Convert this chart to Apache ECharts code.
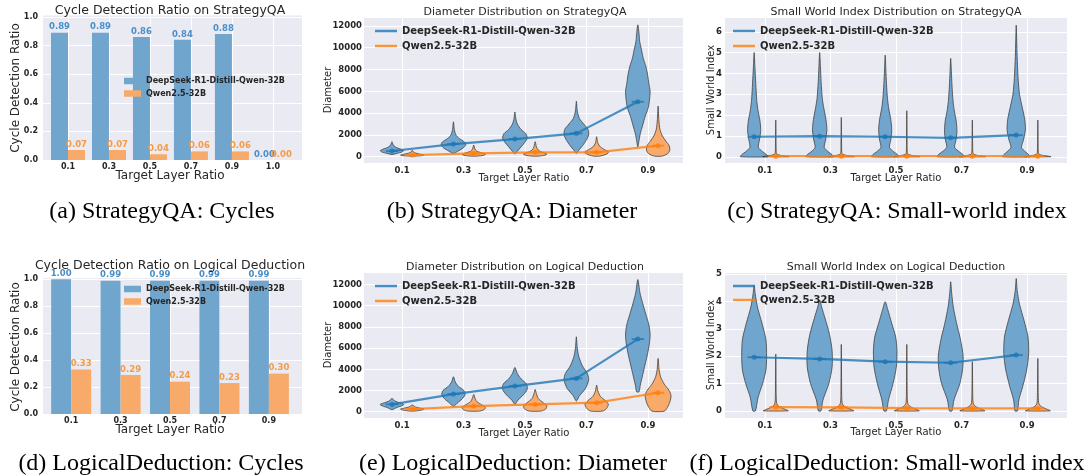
<!DOCTYPE html>
<html><head><meta charset="utf-8">
<script src="https://cdn.jsdelivr.net/npm/echarts@6/dist/echarts.min.js"></script>
<style>html,body{margin:0;padding:0;background:#fff}#c{width:1086px;height:475px}</style>
</head><body><div id="c"></div><script>
// ---------------- data ----------------
const DS = 'DeepSeek-R1-Distill-Qwen-32B', QW = 'Qwen2.5-32B';
const layerCats6 = ['0.1','0.3','0.5','0.7','0.9','1.0'];
const layerCats5 = ['0.1','0.3','0.5','0.7','0.9'];
const cycleTicks = [0, 0.2, 0.4, 0.6, 0.8, 1.0];
const diamTicks = [0, 2000, 4000, 6000, 8000, 10000, 12000];
const swTicksSQA = [0, 1, 2, 3, 4, 5, 6];
const swTicksLD = [0, 1, 2, 3, 4, 5];

const cycleSQA_DS = [0.89, 0.89, 0.86, 0.84, 0.88, 0.00];
const cycleSQA_QW = [0.07, 0.07, 0.04, 0.06, 0.06, 0.00];
const cycleLD_DS = [1.00, 0.99, 0.99, 0.99, 0.99];
const cycleLD_QW = [0.33, 0.29, 0.24, 0.23, 0.30];

const diamSQA_DS_mean = [520, 1160, 1620, 2140, 5045];
const diamSQA_QW_mean = [150, 306, 400, 400, 1010];
const diamLD_DS_mean = [690, 1665, 2420, 3140, 6850];
const diamLD_QW_mean = [250, 535, 690, 850, 1790];
const swSQA_DS_mean = [0.96, 0.99, 0.96, 0.91, 1.04];
const swSQA_QW_mean = [0.03, 0.03, 0.03, 0.03, 0.03];
const swLD_DS_mean = [1.96, 1.90, 1.80, 1.76, 2.04];
const swLD_QW_mean = [0.14, 0.13, 0.10, 0.09, 0.09];

// violin profiles: [value, half-width (category units)]
const diamSQA_DS_violin = [
  [[200,0],[300,0.08],[420,0.16],[550,0.19],[680,0.15],[820,0.08],[1000,0.03],[1200,0.012],[1370,0]],
  [[300,0],[500,0.07],[800,0.16],[1100,0.2],[1350,0.18],[1650,0.1],[2000,0.04],[2500,0.015],[3200,0]],
  [[250,0],[500,0.04],[900,0.1],[1300,0.16],[1700,0.2],[2100,0.18],[2500,0.1],[3000,0.04],[3500,0.015],[4100,0]],
  [[300,0],[600,0.04],[1000,0.1],[1500,0.16],[2000,0.2],[2500,0.19],[3000,0.12],[3500,0.05],[4200,0.015],[5100,0]],
  [[900,0],[1500,0.02],[2100,0.04],[2900,0.08],[3700,0.12],[4500,0.17],[5200,0.19],[6000,0.2],[6700,0.18],[7500,0.16],[8300,0.13],[9000,0.09],[9800,0.06],[10600,0.03],[11300,0.02],[12100,0]]
];
const diamSQA_QW_violin = [
  [[50,0.04],[100,0.17],[150,0.19],[220,0.14],[320,0.06],[450,0.015],[600,0]],
  [[50,0.05],[120,0.16],[220,0.19],[350,0.13],[500,0.05],[700,0.02],[1070,0]],
  [[50,0.05],[130,0.16],[250,0.19],[400,0.12],[600,0.05],[900,0.02],[1380,0]],
  [[50,0.05],[150,0.12],[300,0.18],[450,0.19],[650,0.13],[900,0.06],[1250,0.02],[1830,0]],
  [[50,0.06],[250,0.15],[600,0.19],[1000,0.18],[1400,0.13],[1900,0.07],[2500,0.03],[3400,0.012],[4650,0]]
];
const swSQA_DS_violin = [
  [[0,0.21],[0.1,0.19],[0.24,0.13],[0.45,0.065],[0.8,0.08],[1.25,0.1],[1.7,0.09],[2.2,0.06],[2.7,0.04],[3.5,0.025],[4.3,0.012],[5.0,0]],
  [[0,0.21],[0.1,0.19],[0.24,0.13],[0.45,0.07],[0.8,0.09],[1.3,0.11],[1.8,0.095],[2.3,0.065],[2.8,0.04],[3.6,0.022],[4.3,0.012],[5.0,0]],
  [[0,0.21],[0.1,0.19],[0.24,0.13],[0.45,0.065],[0.8,0.085],[1.3,0.1],[1.8,0.085],[2.3,0.055],[2.8,0.035],[3.5,0.02],[4.2,0.01],[4.88,0]],
  [[0,0.21],[0.1,0.19],[0.24,0.13],[0.45,0.06],[0.8,0.08],[1.2,0.095],[1.7,0.085],[2.2,0.055],[2.7,0.035],[3.4,0.02],[4.1,0.01],[4.72,0]],
  [[0,0.21],[0.1,0.19],[0.24,0.14],[0.45,0.08],[0.8,0.11],[1.3,0.14],[1.8,0.13],[2.4,0.09],[3.0,0.05],[3.8,0.028],[4.8,0.014],[5.6,0.007],[6.32,0]]
];
const swSQA_QW_violin = [
  [[0,0.2],[0.03,0.16],[0.07,0.07],[0.12,0.02],[0.2,0.008],[0.5,0.005],[1.76,0]],
  [[0,0.2],[0.03,0.16],[0.07,0.07],[0.12,0.02],[0.2,0.008],[0.5,0.005],[1.89,0]],
  [[0,0.2],[0.03,0.16],[0.07,0.07],[0.12,0.02],[0.2,0.008],[0.5,0.005],[2.21,0]],
  [[0,0.2],[0.03,0.16],[0.07,0.07],[0.12,0.02],[0.2,0.008],[0.5,0.005],[1.76,0]],
  [[0,0.2],[0.03,0.16],[0.07,0.07],[0.12,0.02],[0.2,0.008],[0.5,0.005],[1.76,0]]
];
const diamLD_DS_violin = [
  [[200,0],[400,0.08],[600,0.18],[700,0.19],[850,0.12],[1000,0.05],[1250,0]],
  [[500,0],[800,0.06],[1200,0.14],[1600,0.19],[2000,0.17],[2400,0.08],[2800,0.03],[3300,0]],
  [[700,0],[1100,0.05],[1600,0.14],[2100,0.2],[2600,0.19],[3100,0.1],[3600,0.04],[4180,0]],
  [[1000,0],[1500,0.05],[2200,0.15],[3000,0.2],[3600,0.18],[4300,0.1],[5200,0.04],[6000,0.015],[7070,0]],
  [[1880,0.02],[2500,0.04],[3500,0.08],[4500,0.12],[5500,0.16],[6500,0.19],[7300,0.2],[8200,0.18],[9200,0.13],[10200,0.08],[11200,0.035],[12470,0]]
];
const diamLD_QW_violin = [
  [[60,0.05],[150,0.15],[250,0.19],[350,0.12],[450,0.05],[630,0]],
  [[60,0.1],[200,0.17],[400,0.19],[650,0.13],[950,0.05],[1300,0.02],[1630,0]],
  [[60,0.1],[250,0.17],[550,0.19],[850,0.13],[1250,0.05],[1700,0.02],[2100,0]],
  [[60,0.1],[300,0.16],[700,0.19],[1050,0.14],[1450,0.06],[1950,0.02],[2500,0]],
  [[50,0.1],[400,0.15],[900,0.19],[1500,0.21],[2000,0.18],[2600,0.1],[3300,0.04],[4000,0.015],[5030,0]]
];
const swLD_DS_violin = [
  [[0,0.02],[0.5,0.06],[1.0,0.13],[1.5,0.18],[2.0,0.19],[2.6,0.18],[3.2,0.12],[3.8,0.05],[4.3,0.015],[4.6,0]],
  [[0,0.02],[0.4,0.05],[1.0,0.14],[1.6,0.19],[2.2,0.19],[2.8,0.15],[3.4,0.08],[3.8,0.03],[4.05,0]],
  [[0,0.02],[0.4,0.05],[1.0,0.12],[1.6,0.17],[2.2,0.18],[2.7,0.16],[3.2,0.1],[3.7,0.04],[3.99,0]],
  [[0,0.02],[0.4,0.05],[1.0,0.14],[1.5,0.18],[2.0,0.19],[2.6,0.15],[3.2,0.09],[3.8,0.04],[4.3,0.015],[4.72,0]],
  [[0,0.02],[0.4,0.04],[0.9,0.1],[1.5,0.16],[2.1,0.19],[2.7,0.18],[3.3,0.12],[3.9,0.05],[4.4,0.015],[4.84,0]]
];
const swLD_QW_violin = [
  [[0,0.19],[0.05,0.15],[0.12,0.08],[0.2,0.03],[0.3,0.012],[0.6,0.006],[2.08,0]],
  [[0,0.19],[0.05,0.15],[0.12,0.08],[0.2,0.03],[0.3,0.012],[0.6,0.006],[2.43,0]],
  [[0,0.19],[0.05,0.15],[0.12,0.08],[0.2,0.03],[0.3,0.012],[0.6,0.006],[2.43,0]],
  [[0,0.19],[0.05,0.15],[0.12,0.08],[0.2,0.03],[0.3,0.012],[0.6,0.006],[1.80,0]],
  [[0,0.19],[0.05,0.15],[0.12,0.08],[0.2,0.03],[0.3,0.012],[0.6,0.006],[1.92,0]]
];

// ---------------- styling ----------------
const FONT = 'DejaVu Sans';
const BG = '#EAEAF2', TXT = '#262626';
const BLUE_FILL = '#70a5cd', ORANGE_FILL = '#f7aa69';
const BLUE_LINE = 'rgba(31,119,180,0.8)', ORANGE_LINE = 'rgba(255,127,14,0.8)';
const BLUE_LBL = '#4a8fc8', ORANGE_LBL = '#f79a45';
const DODGE = 0.165;

const grids = [], xAxes = [], yAxes = [], series = [], legends = [], texts = [];

function addPanel(p) {
  const i = grids.length;
  grids.push({left: p.rect[0], top: p.rect[1], width: p.rect[2], height: p.rect[3],
    show: true, backgroundColor: BG, borderWidth: 0});
  const idx = p.cats.map((_, k) => k);
  xAxes.push({gridIndex: i, type: 'value', min: p.xr[0], max: p.xr[1],
    axisLine: {show: false}, axisTick: {show: false, customValues: idx},
    axisLabel: {customValues: idx, formatter: v => p.cats[Math.round(v)], fontFamily: FONT,
      fontWeight: 'bold', fontSize: p.ts, color: TXT, margin: p.xm},
    splitLine: {show: true, lineStyle: {color: '#ffffff', width: 1}}});
  yAxes.push({gridIndex: i, type: 'value', min: p.yr[0], max: p.yr[1],
    axisLine: {show: false}, axisTick: {show: false, customValues: p.yt},
    axisLabel: {customValues: p.yt, formatter: p.yf, fontFamily: FONT,
      fontWeight: 'bold', fontSize: p.ts, color: TXT, margin: p.ym},
    splitLine: {show: true, lineStyle: {color: '#ffffff', width: 1}}});
  return i;
}

function barSeries(i, name, vals, bw, color, lblColor) {
  series.push({type: 'bar', name, xAxisIndex: i, yAxisIndex: i,
    data: vals.map((v, k) => [k, v]), barWidth: bw, barGap: '0%',
    itemStyle: {color}, z: 2,
    label: {show: true, position: 'top', distance: 1, formatter: q => q.value[1].toFixed(2),
      fontFamily: FONT, fontWeight: 'bold', fontSize: 8.5, color: lblColor}});
}

function violinSeries(i, name, profiles, off, fill) {
  series.push({type: 'custom', name: name + ' violin', xAxisIndex: i, yAxisIndex: i, z: 2,
    silent: true, clip: false,
    data: profiles.map((pr, k) => [k + off, pr[pr.length - 1][0]]),
    encode: {x: 0, y: 1},
    renderItem(params, api) {
      const pr = profiles[params.dataIndex];
      const c = api.value(0);
      const right = pr.map(([y, w]) => api.coord([c + w, y]));
      // skip points of zero width on the way back so no vertex is doubled
      const back = pr.slice().reverse().filter(([y, w], k, a) => !(w === 0 && (k === 0 || k === a.length - 1)));
      const left = back.map(([y, w]) => api.coord([c - w, y]));
      return {type: 'polygon', shape: {points: right.concat(left), smooth: 0.25},
        style: {fill, stroke: 'rgba(60,60,60,0.85)', lineWidth: 0.9}};
    }});
}

function meanSeries(i, name, means, off, color) {
  series.push({type: 'line', name, xAxisIndex: i, yAxisIndex: i, z: 5,
    data: means.map((v, k) => [k + off, v]),
    symbol: 'circle', symbolSize: 5, showSymbol: true,
    lineStyle: {width: 2.2, color}, itemStyle: {color}});
  series.push({type: 'custom', name: name + ' cap', xAxisIndex: i, yAxisIndex: i, z: 5, silent: true,
    data: means.map((v, k) => [k + off, v]), encode: {x: 0, y: 1},
    renderItem(params, api) {
      const a = api.coord([api.value(0) - 0.1, api.value(1)]);
      const b = api.coord([api.value(0) + 0.1, api.value(1)]);
      return {type: 'line', shape: {x1: a[0], y1: a[1], x2: b[0], y2: b[1]},
        style: {stroke: color, lineWidth: 1.8}};
    }});
}

function legend(left, top, size, iw, ih, gap, rectIcon) {
  legends.push({left, top, orient: 'vertical', padding: 0, itemGap: gap, z: 10,
    itemWidth: iw, itemHeight: ih, icon: 'rect',
    textStyle: {fontFamily: FONT, fontWeight: 'bold', fontSize: size, color: TXT},
    data: [{name: DS, itemStyle: {color: rectIcon ? BLUE_FILL : BLUE_LINE}},
           {name: QW, itemStyle: {color: rectIcon ? ORANGE_FILL : ORANGE_LINE}}]});
}

function txt(x, y, text, size, o = {}) {
  texts.push({type: 'text', x, y, rotation: o.rot || 0, silent: true, z: 10,
    style: {text, font: (o.w || 'normal') + ' ' + size + 'px "' + (o.f || FONT) + '"',
      fill: o.c || TXT, textAlign: 'center', textVerticalAlign: 'middle',
      align: 'center', verticalAlign: 'middle'}});
}

const f1 = v => v.toFixed(1), fi = v => String(v);

// (a)
let g = addPanel({rect: [43, 15.5, 259, 144.5], xr: [-0.61, 5.71], yr: [0, 1.01], cats: layerCats6,
  yt: cycleTicks, yf: f1, ts: 8, xm: 3, ym: 5});
barSeries(g, DS, cycleSQA_DS, 17, BLUE_FILL, BLUE_LBL);
barSeries(g, QW, cycleSQA_QW, 17, ORANGE_FILL, ORANGE_LBL);
legend(124, 77, 8, 17, 6.5, 4.5, true);
txt(170, 11, 'Cycle Detection Ratio on StrategyQA', 12.5);
txt(170, 176, 'Target Layer Ratio', 12);
txt(16, 88, 'Cycle Detection Ratio', 12, {rot: Math.PI / 2});

// (b)
g = addPanel({rect: [364, 18, 319, 145], xr: [-0.62, 4.57], yr: [-580, 12730], cats: layerCats5,
  yt: diamTicks, yf: fi, ts: 8.5, xm: 3, ym: 2});
violinSeries(g, DS, diamSQA_DS_violin, -DODGE, BLUE_FILL);
violinSeries(g, QW, diamSQA_QW_violin, DODGE, ORANGE_FILL);
meanSeries(g, DS, diamSQA_DS_mean, -DODGE, BLUE_LINE);
meanSeries(g, QW, diamSQA_QW_mean, DODGE, ORANGE_LINE);
legend(375, 26, 10, 22, 2.5, 5, false);
txt(525, 12, 'Diameter Distribution on StrategyQA', 11);
txt(524, 178, 'Target Layer Ratio', 10);
txt(328, 90, 'Diameter', 10, {rot: Math.PI / 2});

// (c)
g = addPanel({rect: [725, 18, 342, 145], xr: [-0.61, 4.61], yr: [-0.3, 6.66], cats: layerCats5,
  yt: swTicksSQA, yf: fi, ts: 8.5, xm: 3, ym: 3});
violinSeries(g, DS, swSQA_DS_violin, -DODGE, BLUE_FILL);
violinSeries(g, QW, swSQA_QW_violin, DODGE, ORANGE_FILL);
meanSeries(g, DS, swSQA_DS_mean, -DODGE, BLUE_LINE);
meanSeries(g, QW, swSQA_QW_mean, DODGE, ORANGE_LINE);
legend(733, 26, 10, 22, 2.5, 5, false);
txt(896, 12, 'Small World Index Distribution on StrategyQA', 11);
txt(896, 178, 'Target Layer Ratio', 10);
txt(711, 90, 'Small World Index', 10, {rot: Math.PI / 2});

// (d)
g = addPanel({rect: [43, 278, 259, 136], xr: [-0.57, 4.67], yr: [0, 1.01], cats: layerCats5,
  yt: cycleTicks, yf: f1, ts: 8, xm: 3, ym: 5});
barSeries(g, DS, cycleLD_DS, 20, BLUE_FILL, BLUE_LBL);
barSeries(g, QW, cycleLD_QW, 20, ORANGE_FILL, ORANGE_LBL);
legend(124, 285, 8, 17, 6.5, 4.5, true);
txt(170, 266, 'Cycle Detection Ratio on Logical Deduction', 12.5);
txt(170, 430, 'Target Layer Ratio', 12);
txt(16, 347, 'Cycle Detection Ratio', 12, {rot: Math.PI / 2});

// (e)
g = addPanel({rect: [364, 273, 319, 145], xr: [-0.62, 4.57], yr: [-594, 13085], cats: layerCats5,
  yt: diamTicks, yf: fi, ts: 8.5, xm: 3, ym: 2});
violinSeries(g, DS, diamLD_DS_violin, -DODGE, BLUE_FILL);
violinSeries(g, QW, diamLD_QW_violin, DODGE, ORANGE_FILL);
meanSeries(g, DS, diamLD_DS_mean, -DODGE, BLUE_LINE);
meanSeries(g, QW, diamLD_QW_mean, DODGE, ORANGE_LINE);
legend(375, 281, 10, 22, 2.5, 5, false);
txt(525, 267, 'Diameter Distribution on Logical Deduction', 11);
txt(524, 433, 'Target Layer Ratio', 10);
txt(328, 345, 'Diameter', 10, {rot: Math.PI / 2});

// (f)
g = addPanel({rect: [725, 273, 342, 145], xr: [-0.61, 4.61], yr: [-0.26, 5.04], cats: layerCats5,
  yt: swTicksLD, yf: fi, ts: 8.5, xm: 3, ym: 3});
violinSeries(g, DS, swLD_DS_violin, -DODGE, BLUE_FILL);
violinSeries(g, QW, swLD_QW_violin, DODGE, ORANGE_FILL);
meanSeries(g, DS, swLD_DS_mean, -DODGE, BLUE_LINE);
meanSeries(g, QW, swLD_QW_mean, DODGE, ORANGE_LINE);
legend(733, 281, 10, 22, 2.5, 4, false);
txt(896, 267, 'Small World Index on Logical Deduction', 11);
txt(896, 432, 'Target Layer Ratio', 10);
txt(711, 345, 'Small World Index', 10, {rot: Math.PI / 2});

// captions
const capFont = 'Liberation Serif';
txt(162, 212, '(a) StrategyQA: Cycles', 24, {f: capFont, c: '#000'});
txt(512, 212, '(b) StrategyQA: Diameter', 24, {f: capFont, c: '#000'});
txt(897, 212, '(c) StrategyQA: Small-world index', 24, {f: capFont, c: '#000'});
txt(161, 464, '(d) LogicalDeduction: Cycles', 24, {f: capFont, c: '#000'});
txt(513, 464, '(e) LogicalDeduction: Diameter', 24, {f: capFont, c: '#000'});
txt(887, 464, '(f) LogicalDeduction: Small-world index', 24, {f: capFont, c: '#000'});

const chart = echarts.init(document.getElementById('c'), null, {renderer: 'canvas'});
chart.setOption({
  animation: false,
  textStyle: {fontFamily: FONT},
  grid: grids, xAxis: xAxes, yAxis: yAxes, series, legend: legends,
  graphic: {elements: texts}
});
</script></body></html>
